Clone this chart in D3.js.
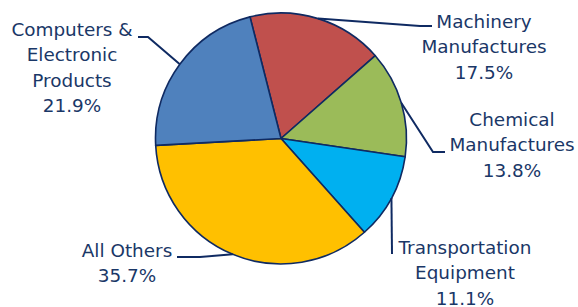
<!DOCTYPE html>
<html>
<head>
<meta charset="utf-8">
<script src="https://cdn.jsdelivr.net/npm/d3@7"></script>
<style>
  body { margin: 0; background: #fff; }
  svg text { font-family: "DejaVu Sans", sans-serif; font-size: 18.4px; fill: #1a3767; }
</style>
</head>
<body>
<svg id="chart" width="578" height="307"></svg>
<script>
// Data
const categories = ['Machinery Manufactures', 'Chemical Manufactures', 'Transportation Equipment', 'All Others', 'Computers & Electronic Products'];
const shares = [17.5, 13.8, 11.1, 35.7, 21.9];
const labelLines = [
  ['Machinery', 'Manufactures'],
  ['Chemical', 'Manufactures'],
  ['Transportation', 'Equipment'],
  ['All Others'],
  ['Computers &', 'Electronic', 'Products']
];
const colors = ['#c0504d', '#9bbb59', '#00b0f0', '#ffc000', '#4f81bd'];

// Layout
const cx = 281, cy = 138.5, r = 125.5;
const startDeg = -14.3;
const navy = '#0f2a62';
// leader line bends and label anchor (x centre, first baseline) per slice
const layout = [
  { bends: [[420, 26], [432, 26]], tx: 484, ty: 28 },
  { bends: [[433, 152], [445, 152]], tx: 512, ty: 126 },
  { bends: [[392, 254]], tx: 465, ty: 254 },
  { bends: [[200, 257], [177, 257]], tx: 127, ty: 257 },
  { bends: [[148, 37], [138, 37]], tx: 72, ty: 36 }
];
const lineGap = 25.3;

const svg = d3.select('#chart');
const g = svg.append('g').attr('transform', `translate(${cx},${cy})`);

const pie = d3.pie()
  .sort(null)
  .value(d => d)
  .startAngle(startDeg * Math.PI / 180)
  .endAngle(startDeg * Math.PI / 180 + 2 * Math.PI);

const arc = d3.arc().innerRadius(0).outerRadius(r);
const arcs = pie(shares);

g.selectAll('path.slice')
  .data(arcs)
  .enter()
  .append('path')
    .attr('class', 'slice')
    .attr('d', arc)
    .attr('fill', (d, i) => colors[i])
    .attr('stroke', navy)
    .attr('stroke-width', 1.6)
    .attr('stroke-linejoin', 'round');

// leader lines
const line = d3.line();
arcs.forEach((d, i) => {
  let a = (d.startAngle + d.endAngle) / 2;
  let anchor = [cx + r * Math.sin(a), cy - r * Math.cos(a)];
  svg.append('path')
    .attr('d', line([anchor].concat(layout[i].bends)))
    .attr('fill', 'none')
    .attr('stroke', navy)
    .attr('stroke-width', 2);
});

// labels
arcs.forEach((d, i) => {
  let lines = labelLines[i].concat([d3.format('.1f')(shares[i]) + '%']);
  let t = svg.append('text')
    .attr('text-anchor', 'middle')
    .attr('x', layout[i].tx)
    .attr('y', layout[i].ty);
  lines.forEach((s, j) => {
    t.append('tspan')
      .attr('x', layout[i].tx)
      .attr('dy', j == 0 ? 0 : lineGap)
      .text(s);
  });
});
</script>
</body>
</html>
